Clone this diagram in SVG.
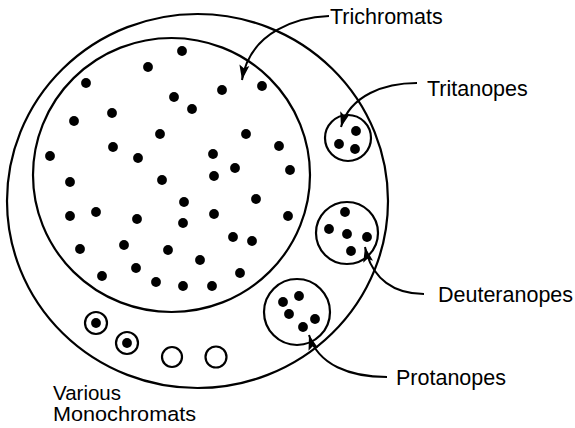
<svg xmlns="http://www.w3.org/2000/svg" width="575" height="428" viewBox="0 0 575 428">
<style>
.ring{fill:none;stroke:#000;stroke-width:2.2}
.dot{fill:#000}
.lead{fill:none;stroke:#000;stroke-width:2}
.lbl{font-family:"Liberation Sans",Arial,sans-serif;font-size:21.5px;fill:#000}
.sm{font-size:20.5px}
</style>
<defs>
<marker id="ah" markerUnits="userSpaceOnUse" markerWidth="16" markerHeight="12" viewBox="0 0 16 12" refX="15" refY="6" orient="auto">
<path d="M0,1 L15,6 L0,11 L3,6 Z" fill="#000"/>
</marker>
</defs>
<rect width="575" height="428" fill="#fff"/>
<g id="population">
<ellipse class="ring" cx="197.5" cy="201" rx="190.5" ry="187"/>
</g>
<g id="trichromats">
<ellipse class="ring" cx="171.5" cy="175" rx="138.5" ry="137"/>
<g class="dot">
<circle cx="182" cy="51" r="4.9"/><circle cx="148" cy="67" r="4.9"/><circle cx="86" cy="83" r="4.9"/>
<circle cx="222" cy="90" r="4.9"/><circle cx="262" cy="86" r="4.9"/><circle cx="174" cy="97" r="4.9"/>
<circle cx="192" cy="109" r="4.9"/><circle cx="74" cy="121" r="4.9"/><circle cx="112" cy="113" r="4.9"/>
<circle cx="160" cy="134" r="4.9"/><circle cx="246" cy="134" r="4.9"/><circle cx="279" cy="146" r="4.9"/>
<circle cx="50" cy="156" r="4.9"/><circle cx="113" cy="147" r="4.9"/><circle cx="138" cy="158" r="4.9"/>
<circle cx="213" cy="154" r="4.9"/><circle cx="235" cy="168" r="4.9"/><circle cx="290" cy="170" r="4.9"/>
<circle cx="214" cy="176" r="4.9"/><circle cx="162" cy="180" r="4.9"/><circle cx="70" cy="182" r="4.9"/>
<circle cx="256" cy="199" r="4.9"/><circle cx="184" cy="202" r="4.9"/><circle cx="70" cy="216" r="4.9"/>
<circle cx="96" cy="212" r="4.9"/><circle cx="137" cy="219" r="4.9"/><circle cx="214" cy="214" r="4.9"/>
<circle cx="183" cy="223" r="4.9"/><circle cx="288" cy="216" r="4.9"/><circle cx="80" cy="249" r="4.9"/>
<circle cx="124" cy="245" r="4.9"/><circle cx="168" cy="250" r="4.9"/><circle cx="233" cy="237" r="4.9"/>
<circle cx="252" cy="241" r="4.9"/><circle cx="200" cy="260" r="4.9"/><circle cx="102" cy="276" r="4.9"/>
<circle cx="136" cy="268" r="4.9"/><circle cx="240" cy="273" r="4.9"/><circle cx="156" cy="282" r="4.9"/>
<circle cx="183" cy="286" r="4.9"/><circle cx="212" cy="286" r="4.9"/>
</g>
<text class="lbl" x="330" y="24">Trichromats</text>
</g>
<g id="tritanopes">
<circle class="ring" cx="348" cy="138" r="23"/>
<circle class="dot" cx="356" cy="131" r="4.9"/><circle class="dot" cx="339" cy="144" r="4.9"/><circle class="dot" cx="355" cy="149" r="4.9"/>
<text class="lbl" x="427" y="96">Tritanopes</text>
</g>
<g id="deuteranopes">
<circle class="ring" cx="347" cy="233" r="31"/>
<circle class="dot" cx="345" cy="212" r="4.9"/><circle class="dot" cx="329" cy="229" r="4.9"/><circle class="dot" cx="347" cy="234" r="4.9"/>
<circle class="dot" cx="367" cy="237" r="4.9"/><circle class="dot" cx="351" cy="251" r="4.9"/>
<text class="lbl" x="438" y="302">Deuteranopes</text>
</g>
<g id="protanopes">
<circle class="ring" cx="297" cy="312" r="33"/>
<circle class="dot" cx="299" cy="296" r="4.9"/><circle class="dot" cx="283" cy="302" r="4.9"/><circle class="dot" cx="289" cy="314" r="4.9"/>
<circle class="dot" cx="315" cy="319" r="4.9"/><circle class="dot" cx="303" cy="327" r="4.9"/>
<text class="lbl" x="396" y="385">Protanopes</text>
</g>
<g id="monochromats">
<circle class="ring" cx="96" cy="323" r="11"/><circle class="dot" cx="96" cy="323" r="4.9"/>
<circle class="ring" cx="127" cy="343" r="11"/><circle class="dot" cx="127" cy="343" r="4.9"/>
<circle class="ring" cx="172" cy="357" r="10"/>
<circle class="ring" cx="216" cy="357" r="10.5"/>
<text class="lbl sm" x="53" y="400">Various</text>
<text class="lbl sm" x="53" y="421" textLength="143" lengthAdjust="spacingAndGlyphs">Monochromats</text>
</g>
<g id="connectors">
<path class="lead" d="M329,16 C300,17 250,30 242,80" marker-end="url(#ah)"/>
<path class="lead" d="M417,83 C385,83 350,95 341,127" marker-end="url(#ah)"/>
<path class="lead" d="M424,294 C395,294 372,280 365,247" marker-end="url(#ah)"/>
<path class="lead" d="M387,377 C350,377 318,365 309,335" marker-end="url(#ah)"/>
</g>
</svg>
